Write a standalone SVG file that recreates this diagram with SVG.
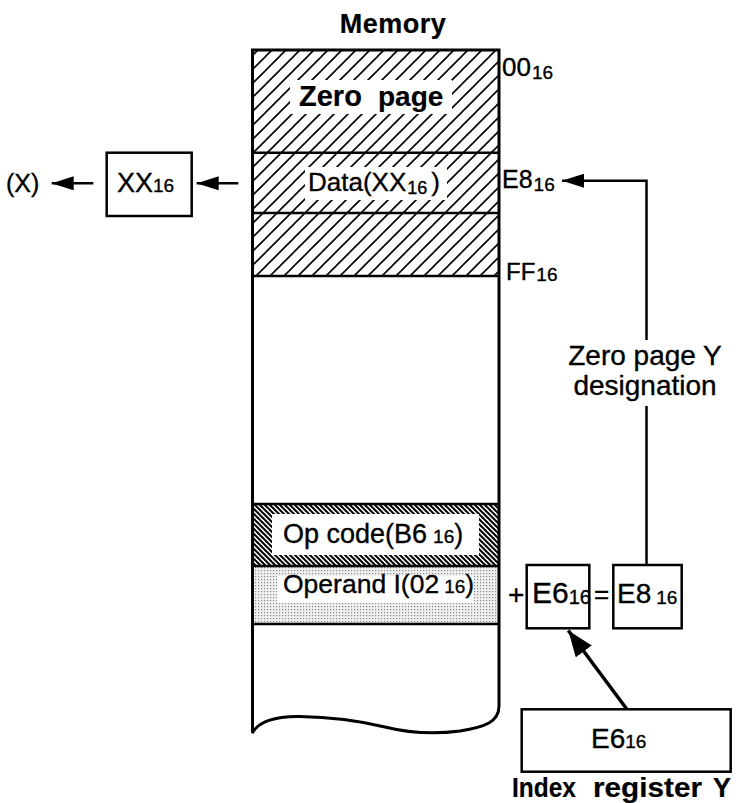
<svg xmlns="http://www.w3.org/2000/svg" width="744" height="803" viewBox="0 0 744 803">
<style>
text{font-family:"Liberation Sans",Arial,sans-serif;fill:#000;stroke:#000;stroke-width:0.35}
.b{font-weight:bold;stroke-width:0.2}
.box{fill:#fff;stroke:#000;stroke-width:2.5}
.ln{stroke:#000;stroke-width:2.5;fill:none}
.sep{stroke:#000;stroke-width:2.5}
.wh{fill:#fff}
</style>
<defs>
<pattern id="hatch" patternUnits="userSpaceOnUse" width="14" height="14">
<rect width="14" height="14" fill="#fff"/>
<path d="M0,14 L14,0 M-3.5,3.5 L3.5,-3.5 M10.5,17.5 L17.5,10.5" stroke="#000" stroke-width="1.6"/>
</pattern>
<pattern id="dense" patternUnits="userSpaceOnUse" width="5" height="5">
<rect width="5" height="5" fill="#fff"/>
<path d="M0,0 L5,5 M-1,4 L1,6 M4,-1 L6,1" stroke="#000" stroke-width="2"/>
</pattern>
<pattern id="dots" patternUnits="userSpaceOnUse" width="3" height="3">
<rect width="3" height="3" fill="#f0f0f0"/>
<rect x="0" y="0" width="1.2" height="1.2" fill="#888"/>
</pattern>
<marker id="arr" viewBox="0 0 22 14" refX="22" refY="7" markerWidth="22" markerHeight="14" markerUnits="userSpaceOnUse" orient="auto">
<path d="M22,7 L0,0 L0,14 Z" fill="#000"/>
</marker>
<marker id="arrBig" viewBox="0 0 26 20" refX="26" refY="10" markerWidth="26" markerHeight="20" markerUnits="userSpaceOnUse" orient="auto">
<path d="M26,10 L0,0 L0,20 Z" fill="#000"/>
</marker>
</defs>

<g id="memory">
<text class="b" x="393" y="33" font-size="27" text-anchor="middle" letter-spacing="0.5">Memory</text>
<path d="M252.5,50 H499 V706 C499,722 485,727 460,731 C430,735 405,732 385,727 C360,721 335,717 300,716.5 C275,716 258,722 252.5,733 Z" fill="#fff"/>
<rect x="252.5" y="50" width="246.5" height="226" fill="url(#hatch)"/>
<rect x="252.5" y="504" width="246.5" height="62" fill="url(#dense)"/>
<rect x="252.5" y="566" width="246.5" height="58" fill="url(#dots)"/>
<rect class="wh" x="290" y="80" width="162" height="34"/>
<rect class="wh" x="305" y="167" width="142" height="33"/>
<rect class="wh" x="272" y="514" width="207" height="41"/>
<rect class="wh" x="277" y="576" width="196" height="27"/>
<line class="sep" x1="252.5" y1="152.7" x2="499" y2="152.7"/>
<line class="sep" x1="252.5" y1="213" x2="499" y2="213"/>
<line class="sep" x1="252.5" y1="276" x2="499" y2="276"/>
<line class="sep" x1="252.5" y1="504" x2="499" y2="504"/>
<line class="sep" x1="252.5" y1="566" x2="499" y2="566"/>
<line class="sep" x1="252.5" y1="624" x2="499" y2="624"/>
<path d="M252.5,50 H499 V706 C499,722 485,727 460,731 C430,735 405,732 385,727 C360,721 335,717 300,716.5 C275,716 258,722 252.5,733 Z" fill="none" stroke="#000" stroke-width="3"/>
<text class="b" x="299" y="106" font-size="29">Zero</text>
<text class="b" x="378" y="106" font-size="28">page</text>
<text x="308" y="191" font-size="26">Data(XX<tspan font-size="18" dx="1" dy="3">16</tspan><tspan dx="4" dy="-3">)</tspan></text>
<text x="283" y="543" font-size="27">Op code(B6<tspan font-size="19" dx="6">16</tspan>)</text>
<text x="283" y="593" font-size="26.5">Operand I(02<tspan font-size="19" dx="5">16</tspan>)</text>
</g>

<g id="addr-labels">
<text x="502" y="76" font-size="26">00<tspan font-size="19" dx="1" dy="3">16</tspan></text>
<text x="502" y="188" font-size="25">E8<tspan font-size="19" dx="1" dy="3">16</tspan></text>
<text x="506" y="280" font-size="24">FF<tspan font-size="19" dx="1" dy="1">16</tspan></text>
<text x="645" y="365" font-size="28" text-anchor="middle">Zero page Y</text>
<text x="645" y="395" font-size="28" text-anchor="middle">designation</text>
</g>

<g id="x-out">
<text x="6" y="192" font-size="25">(X)</text>
</g>

<g id="xx-box">
<rect class="box" x="106.7" y="152.7" width="85" height="63.3"/>
<text x="117" y="192" font-size="27">XX<tspan font-size="19">16</tspan></text>
</g>

<g id="e6-box">
<text x="508" y="604" font-size="28">+</text>
<rect class="box" x="526.7" y="565" width="62.6" height="63.3"/>
<text x="532" y="603" font-size="30">E6<tspan font-size="20" dy="1">16</tspan></text>
</g>

<g id="e8-box">
<text x="594" y="603" font-size="26">=</text>
<rect class="box" x="613.3" y="565" width="68.4" height="63.3"/>
<text x="617" y="603" font-size="28">E8<tspan font-size="19" dx="5" dy="1">16</tspan></text>
</g>

<g id="index-register">
<rect class="box" x="521.7" y="709.3" width="209" height="62.4"/>
<text x="591" y="748" font-size="28">E6<tspan font-size="19">16</tspan></text>
<text class="b" x="512" y="797" font-size="27" textLength="64" lengthAdjust="spacingAndGlyphs">Index</text>
<text class="b" x="593" y="797" font-size="27" textLength="109" lengthAdjust="spacingAndGlyphs">register</text>
<text class="b" x="713" y="797" font-size="27">Y</text>
</g>

<g id="connectors">
<line class="ln" x1="93.3" y1="183.3" x2="51.7" y2="183.3" marker-end="url(#arr)"/>
<line class="ln" x1="238.3" y1="183.3" x2="196.7" y2="183.3" marker-end="url(#arr)"/>
<polyline class="ln" points="646.5,340 646.5,180.7 562,180.7" marker-end="url(#arr)"/>
<line class="ln" x1="646.5" y1="406" x2="646.5" y2="565"/>
<line x1="626.7" y1="709" x2="568.3" y2="630.5" stroke="#000" stroke-width="3.5" marker-end="url(#arrBig)"/>
</g>
</svg>
